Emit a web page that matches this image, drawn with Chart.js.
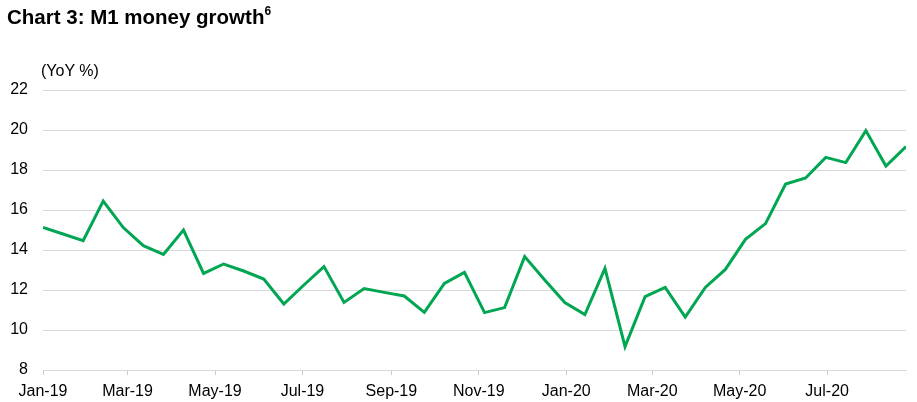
<!DOCTYPE html>
<html>
<head>
<meta charset="utf-8">
<script src="https://cdn.jsdelivr.net/npm/chart.js@4.4.1/dist/chart.umd.min.js"></script>
<style>
  html, body { margin: 0; padding: 0; background: #fff; }
  #wrap { position: relative; width: 917px; height: 402px; }
  #title {
    position: absolute; left: 7px; top: 5px;
    font: bold 20.5px "Liberation Sans", Arial, sans-serif; color: #000;
  }
  #title sup { font-size: 12px; position: relative; top: -1px; }
  #unit {
    position: absolute; left: 41px; top: 62px;
    font: 16px "Liberation Sans", Arial, sans-serif; color: #000;
  }
  canvas { position: absolute; left: 0; top: 0; }
</style>
</head>
<body>
<div id="wrap">
  <canvas id="myChart" width="917" height="402"></canvas>
  <div id="title">Chart 3: M1 money growth<sup>6</sup></div>
  <div id="unit">(YoY %)</div>
</div>
<script>
// fortnightly observations
const dates = [
    '2019-01-01', '2019-01-15', '2019-01-29', '2019-02-12', '2019-02-26', '2019-03-12',
    '2019-03-26', '2019-04-09', '2019-04-23', '2019-05-07', '2019-05-21', '2019-06-04',
    '2019-06-18', '2019-07-02', '2019-07-16', '2019-07-30', '2019-08-13', '2019-08-27',
    '2019-09-10', '2019-09-24', '2019-10-08', '2019-10-22', '2019-11-05', '2019-11-19',
    '2019-12-03', '2019-12-17', '2019-12-31', '2020-01-14', '2020-01-28', '2020-02-11',
    '2020-02-25', '2020-03-10', '2020-03-24', '2020-04-07', '2020-04-21', '2020-05-05',
    '2020-05-19', '2020-06-02', '2020-06-16', '2020-06-30', '2020-07-14', '2020-07-28',
    '2020-08-11', '2020-08-25'
];
const m1Growth = [
    15.13, 14.8, 14.47, 16.45, 15.12, 14.22,
    13.78, 15.0, 12.83, 13.3, 12.95, 12.55,
    11.3, 12.25, 13.17, 11.38, 12.07, 11.88,
    11.7, 10.88, 12.33, 12.88, 10.87, 11.12,
    13.67, 12.5, 11.37, 10.77, 13.08, 9.17,
    11.67, 12.13, 10.65, 12.13, 13.03, 14.53,
    15.32, 17.3, 17.6, 18.63, 18.37, 19.97,
    18.2, 19.17
];
// x軸の目盛り
const tickDates = [
    '2019-01-01', '2019-03-01', '2019-05-01', '2019-07-01', '2019-09-01',
    '2019-11-01', '2020-01-01', '2020-03-01', '2020-05-01', '2020-07-01'
];
const tickLabels = [
    'Jan-19', 'Mar-19', 'May-19', 'Jul-19', 'Sep-19',
    'Nov-19', 'Jan-20', 'Mar-20', 'May-20', 'Jul-20'
];
const yTicks = [8, 10, 12, 14, 16, 18, 20, 22];

const base = Date.parse(dates[0]);
function toDay(s) {
    return (Date.parse(s) - base) / 864e5;
}

const data = {
    datasets: [
        {
            label: 'M1',
            data: dates.map((d, i) => ({ x: toDay(d), y: m1Growth[i] })),
            borderColor: '#00a651',
            borderWidth: 3,
            pointRadius: 0,
            tension: 0,
            fill: false,
        }
    ]
};

const font = { family: '"Liberation Sans", Arial, sans-serif', size: 16 };

const config = {
    type: 'line',
    data: data,
    options: {
        responsive: false,
        animation: false,
        layout: {
            padding: { top: 90, right: 11, bottom: 0, left: 0 }
        },
        scales: {
            x: {
                type: 'linear',
                min: toDay(dates[0]),
                max: toDay(dates[dates.length - 1]),
                afterBuildTicks: (scale) => {
                    scale.ticks = tickDates.map(d => ({ value: toDay(d) }));
                },
                afterFit: (scale) => { scale.height = 32; },
                ticks: {
                    color: '#000',
                    font: font,
                    padding: 7,
                    maxRotation: 0,
                    autoSkip: false,
                    callback: (value, index) => tickLabels[index],
                },
                grid: {
                    drawOnChartArea: false,
                    drawTicks: true,
                    tickLength: 5,
                    color: '#c8c8c8',
                },
                border: { display: true, color: '#d9d9d9', width: 1 },
            },
            y: {
                min: 8,
                max: 22,
                afterBuildTicks: (scale) => {
                    scale.ticks = yTicks.map(v => ({ value: v }));
                },
                afterFit: (scale) => { scale.width = 43; },
                ticks: {
                    color: '#000',
                    font: font,
                    padding: 15,
                },
                grid: {
                    drawTicks: false,
                    color: '#d9d9d9',
                    lineWidth: 1,
                },
                border: { display: false },
            },
        },
        plugins: {
            legend: { display: false },
            tooltip: { enabled: false },
        }
    }
};

new Chart(document.getElementById('myChart'), config);
</script>
</body>
</html>
